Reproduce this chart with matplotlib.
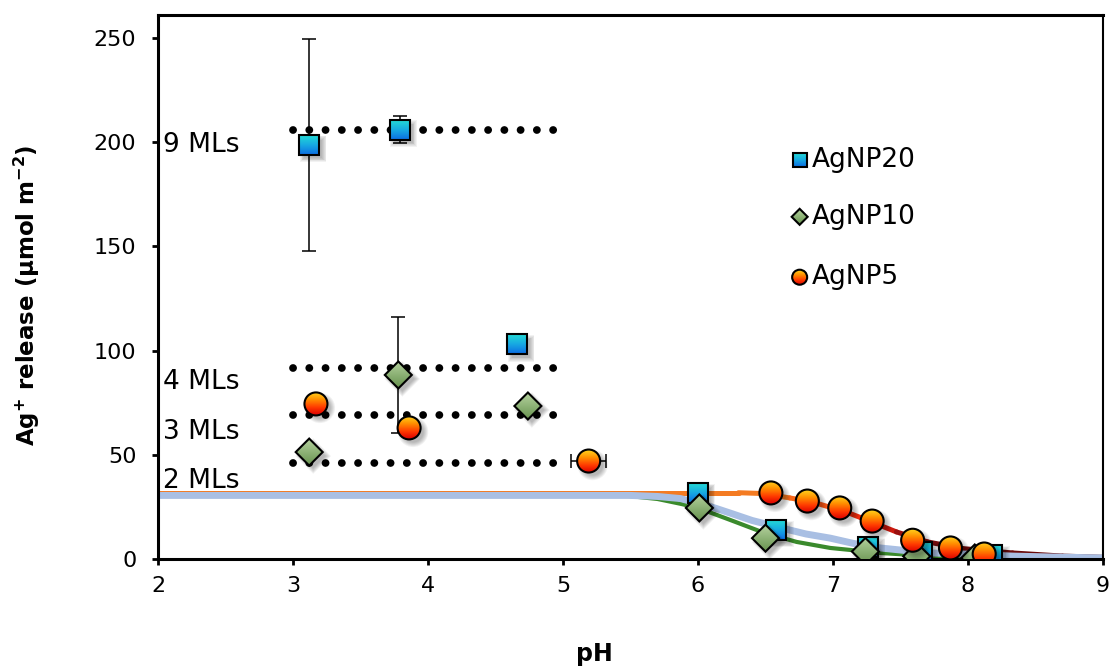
import numpy as np
import matplotlib
matplotlib.use('Agg')
import matplotlib.pyplot as plt
from matplotlib.path import Path
from matplotlib.patches import PathPatch
from matplotlib.transforms import Affine2D, ScaledTranslation
from matplotlib.image import AxesImage
from matplotlib.colors import LinearSegmentedColormap
from matplotlib.collections import LineCollection

# measured release, pH vs Ag+ (umol m-2)
np20_ph = [3.12, 3.79, 4.66, 6.00, 6.58, 7.26, 7.66, 8.18]
np20_rel = [198.7, 206.0, 103.0, 31.7, 13.9, 5.8, 3.4, 1.9]
np20_yerr = [51.0, 6.5, 0, 0, 0, 0, 0, 0]

np10_ph = [3.12, 3.78, 4.74, 6.01, 6.50, 7.24, 7.62, 8.05]
np10_rel = [51.3, 88.3, 73.4, 24.5, 10.0, 3.6, 1.3, 0.5]
np10_yerr = [0, 28.0, 0, 0, 0, 0, 0, 0]

np5_ph = [3.17, 3.86, 5.19, 6.54, 6.81, 7.05, 7.29, 7.59, 7.87, 8.12]
np5_rel = [74.4, 62.9, 47.0, 31.7, 27.8, 24.5, 18.2, 9.0, 5.3, 2.4]
np5_xerr = [0, 0, 0.13, 0, 0, 0, 0, 0, 0, 0]
np5_yerr = [0, 0, 3.5, 0, 0, 0, 0, 0, 0, 0]

# model curves
fit20_ph = [2.0, 5.5, 5.7, 5.87, 6.1, 6.24, 6.4, 6.61, 6.8, 6.98, 7.15, 7.35, 7.5, 7.72, 8.0, 8.33, 8.6, 9.0]
fit20_rel = [30.5, 30.5, 30.0, 29.0, 25.0, 22.0, 18.5, 15.0, 12.0, 10.0, 7.5, 5.3, 4.3, 2.9, 2.3, 1.4, 1.0, 0.5]

fit10_ph = [2.0, 5.45, 5.7, 5.87, 6.0, 6.24, 6.48, 6.73, 6.98, 7.35, 7.72, 8.33, 9.0]
fit10_rel = [30.5, 30.5, 28.8, 26.5, 24.5, 18.7, 12.8, 8.2, 5.3, 2.9, 1.4, 0.5, 0.2]

fit5_ph = [2.0, 6.3, 6.48, 6.68, 6.85, 6.98, 7.12, 7.25, 7.47, 7.7, 7.96, 8.33, 8.7, 9.0]
fit5_rel = [31.8, 31.8, 31.4, 29.3, 27.3, 24.8, 22.0, 18.7, 13.0, 8.2, 5.0, 2.9, 1.4, 0.8]

# monolayer equivalents
ml_levels = [206.0, 91.5, 69.0, 46.0]
ml_names = ['9 MLs', '4 MLs', '3 MLs', '2 MLs']
ml_text_y = [198.7, 85.0, 61.0, 37.4]
ml_start, ml_end = 3.0, 4.97

series_names = ['AgNP20', 'AgNP10', 'AgNP5']

SQUARE = Path([(-1, -1), (1, -1), (1, 1), (-1, 1), (-1, -1)], closed=True)
DIAMOND = Path([(0, -1), (1, 0), (0, 1), (-1, 0), (0, -1)], closed=True)
CIRCLE = Path.unit_circle()

sq_cmap = LinearSegmentedColormap.from_list('sq', ['#0C6CE2', '#17A9E2', '#24DAD6'])
di_cmap = LinearSegmentedColormap.from_list('di', ['#67914E', '#8CB275', '#B4D09E'])
ci_cmap = LinearSegmentedColormap.from_list('ci', ['#DC0000', '#FF3A00', '#FF8C00', '#FFD21C'])
red_line = LinearSegmentedColormap.from_list(
    'rl', [(0.0, '#F47B22'), (0.3, '#FF4E12'), (0.5, '#E8200C'), (0.7, '#A41010'), (1.0, '#6A0A0A')])

grad = np.linspace(0, 1, 64).reshape(-1, 1)


def glossy(ax, x, y, path, r, cmap, base, z, shadow=True):
    """marker with vertical gradient fill, black edge and soft drop shadow"""
    place = ScaledTranslation(x, y, base)
    if shadow:
        for k in range(6):
            t = Affine2D().scale(r * (0.92 + 0.08 * k)).translate(4, -4) + place
            ax.add_patch(PathPatch(path, transform=t, fc='black', ec='none',
                                   alpha=0.05, zorder=z - 0.5))
    t = Affine2D().scale(r) + place
    body = PathPatch(path, transform=t, fc='none', ec='black', lw=1.5, zorder=z + 0.01)
    ax.add_patch(body)
    im = AxesImage(ax, cmap=cmap, interpolation='bilinear', origin='lower',
                   extent=(-1, 1, -1, 1), transform=t, zorder=z)
    im.set_data(grad)
    ax.add_image(im)
    im.set_clip_path(body)


fig = plt.figure(figsize=(11.12, 6.67), dpi=100)
ax = fig.add_axes([158 / 1112, 1 - 559 / 667, 945 / 1112, 544 / 667])

# model curves
ax.plot(fit10_ph, fit10_rel, color='#3A8A2C', lw=3.0, solid_capstyle='butt',
        solid_joinstyle='round', zorder=2)
pts = np.column_stack([fit5_ph, fit5_rel]).reshape(-1, 1, 2)
segs = np.concatenate([pts[:-1], pts[1:]], axis=1)
mid = 0.5 * (np.array(fit5_ph[:-1]) + np.array(fit5_ph[1:]))
lc = LineCollection(segs, cmap=red_line, norm=plt.Normalize(6.6, 7.9), lw=3.6,
                    capstyle='round', joinstyle='round', zorder=2.1)
lc.set_array(mid)
ax.add_collection(lc)
ax.plot(fit20_ph, fit20_rel, color='#A9BFE3', lw=5.0, solid_capstyle='butt',
        solid_joinstyle='round', zorder=2.2)

# dotted monolayer levels
for lev, name, ty in zip(ml_levels, ml_names, ml_text_y):
    ax.plot([ml_start, ml_end], [lev, lev], color='black', lw=5.6,
            linestyle=(0, (0.01, 2.08)), dash_capstyle='round', zorder=3)
    ax.text(2.035, ty, name, fontsize=19, ha='left', va='center', zorder=3)

# error bars
e20 = np.array(np20_yerr) > 0
ax.errorbar(np.array(np20_ph)[e20], np.array(np20_rel)[e20], yerr=np.array(np20_yerr)[e20],
            fmt='none', ecolor='black', elinewidth=1.1, capsize=4.7, capthick=1.1, zorder=4)
e10 = np.array(np10_yerr) > 0
ax.errorbar(np.array(np10_ph)[e10], np.array(np10_rel)[e10], yerr=np.array(np10_yerr)[e10],
            fmt='none', ecolor='black', elinewidth=1.1, capsize=4.7, capthick=1.1, zorder=4)
e5 = (np.array(np5_xerr) > 0) | (np.array(np5_yerr) > 0)
ax.errorbar(np.array(np5_ph)[e5], np.array(np5_rel)[e5],
            xerr=np.array(np5_xerr)[e5], yerr=np.array(np5_yerr)[e5],
            fmt='none', ecolor='black', elinewidth=1.1, capsize=4.7, capthick=1.1, zorder=4)

# data markers
for x, y in zip(np20_ph, np20_rel):
    glossy(ax, x, y, SQUARE, 10, sq_cmap, ax.transData, 5)
for x, y in zip(np10_ph, np10_rel):
    glossy(ax, x, y, DIAMOND, 13.5, di_cmap, ax.transData, 6)
for x, y in zip(np5_ph, np5_rel):
    glossy(ax, x, y, CIRCLE, 11.5, ci_cmap, ax.transData, 7)

# legend
leg_y = [0.733, 0.629, 0.518]
for name, yy, path, r, cm in zip(series_names, leg_y, [SQUARE, DIAMOND, CIRCLE],
                                 [7, 8, 7.5], [sq_cmap, di_cmap, ci_cmap]):
    glossy(ax, 0.679, yy, path, r, cm, ax.transAxes, 8, shadow=False)
    ax.text(0.692, yy, name, transform=ax.transAxes, fontsize=19, ha='left', va='center')

ax.set_xlim(2, 9)
ax.set_ylim(0, 261)
ax.set_xticks(range(2, 10))
ax.set_yticks(range(0, 251, 50))

for side in ['left', 'bottom', 'top']:
    ax.spines[side].set_linewidth(2.2)
ax.spines['right'].set_linewidth(1.5)
ax.tick_params(axis='both', direction='out', length=4.5, width=2.0, labelsize=16)
ax.tick_params(axis='x', pad=8)
ax.tick_params(axis='y', pad=11)

ax.set_xlabel('pH', fontsize=17, fontweight='bold')
ax.xaxis.set_label_coords(0.4617, -0.152)
ax.set_ylabel(r'Ag$^{\mathbf{+}}$ release (µmol m$^{\mathbf{-2}}$)', fontsize=16.5, fontweight='bold')
ax.yaxis.set_label_coords(-0.123, 0.485)

fig.savefig('out.png', dpi=100)
